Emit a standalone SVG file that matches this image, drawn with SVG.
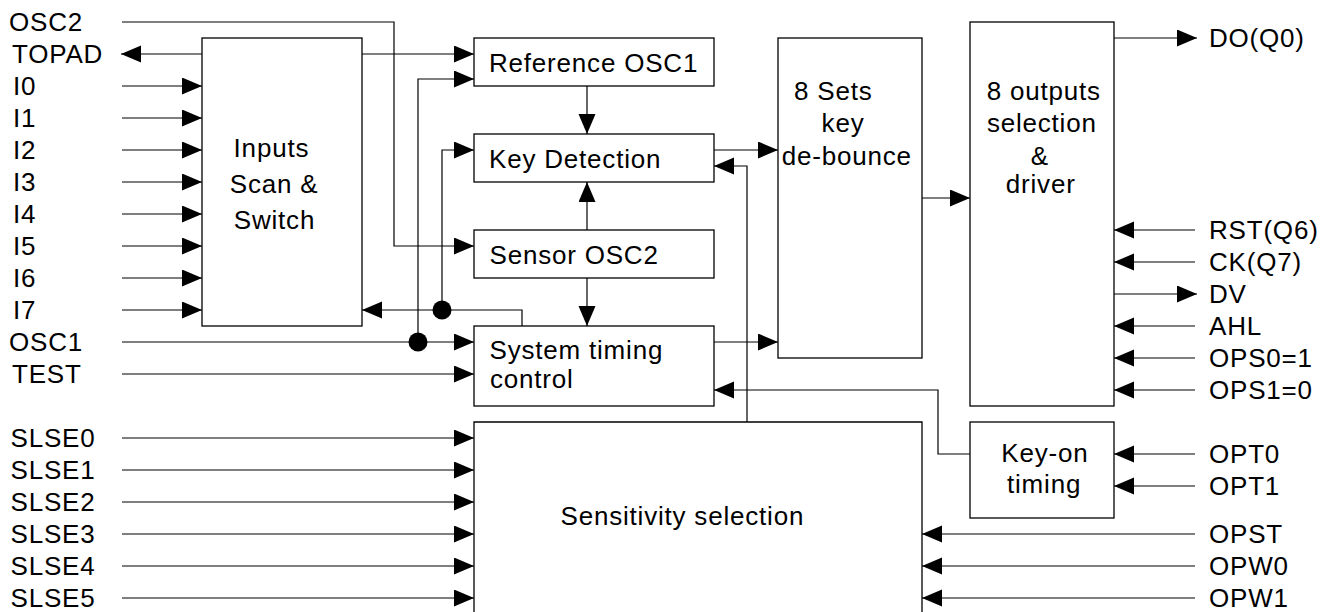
<svg xmlns="http://www.w3.org/2000/svg" width="1334" height="612" viewBox="0 0 1334 612">
<defs>
<marker id="arr" markerUnits="userSpaceOnUse" markerWidth="22" markerHeight="18" refX="20" refY="8.5" orient="auto">
<path d="M0,0 L20,8.5 L0,17 z" fill="#000"/>
</marker>
<style>
text{font-family:"Liberation Sans",Arial,sans-serif;font-size:26px;letter-spacing:0.8px;fill:#000}
.box{fill:none;stroke:#000;stroke-width:1.3}
.w{fill:none;stroke:#000;stroke-width:1.2}
.a{fill:none;stroke:#000;stroke-width:1.2;marker-end:url(#arr)}
.dot{fill:#000}
</style>
</defs>
<rect width="1334" height="612" fill="#fff"/>

<g id="inputs-scan">
<rect class="box" x="202" y="38" width="160" height="288"/>
<text x="233.6" y="157">Inputs</text>
<text x="229.8" y="193">Scan &amp;</text>
<text x="233.8" y="228.5">Switch</text>
</g>
<g id="reference-osc1">
<rect class="box" x="474" y="38" width="240" height="48"/>
<text x="489" y="72">Reference OSC1</text>
</g>
<g id="key-detection">
<rect class="box" x="474" y="134" width="240" height="48"/>
<text x="489" y="168">Key Detection</text>
</g>
<g id="sensor-osc2">
<rect class="box" x="474" y="230" width="240" height="48"/>
<text x="489.5" y="264">Sensor OSC2</text>
</g>
<g id="system-timing">
<rect class="box" x="474" y="326" width="240" height="80"/>
<text x="489.5" y="359">System timing</text>
<text x="490" y="388">control</text>
</g>
<g id="sensitivity-selection">
<path class="box" d="M474,620 V422 H922 V620"/>
<text x="560.5" y="525">Sensitivity selection</text>
</g>
<g id="debounce">
<rect class="box" x="778" y="38" width="144" height="320"/>
<text x="794" y="100">8 Sets</text>
<text x="821.6" y="132">key</text>
<text x="781.8" y="165">de-bounce</text>
</g>
<g id="outputs-driver">
<rect class="box" x="970" y="22" width="144" height="384"/>
<text x="986.7" y="100">8 outputs</text>
<text x="986.9" y="132">selection</text>
<text x="1030.7" y="165">&amp;</text>
<text x="1005.8" y="193">driver</text>
</g>
<g id="key-on-timing">
<rect class="box" x="970" y="422" width="144" height="96"/>
<text x="1001.3" y="462">Key-on</text>
<text x="1007" y="493">timing</text>
</g>

<g id="pin-labels">
<text x="9" y="31.3">OSC2</text>
<text x="12" y="63.3">TOPAD</text>
<text x="13" y="95.3">I0</text>
<text x="13" y="127.3">I1</text>
<text x="13" y="159.3">I2</text>
<text x="13" y="191.3">I3</text>
<text x="13" y="223.3">I4</text>
<text x="13" y="255.3">I5</text>
<text x="13" y="287.3">I6</text>
<text x="13" y="319.3">I7</text>
<text x="9" y="351.3">OSC1</text>
<text x="12" y="383.3">TEST</text>
<text x="10.5" y="447.3">SLSE0</text>
<text x="10.5" y="479.3">SLSE1</text>
<text x="10.5" y="511.3">SLSE2</text>
<text x="10.5" y="543.3">SLSE3</text>
<text x="10.5" y="575.3">SLSE4</text>
<text x="10.5" y="607.3">SLSE5</text>
<text x="1209" y="47.3">DO(Q0)</text>
<text x="1209" y="239.3">RST(Q6)</text>
<text x="1209" y="271.3">CK(Q7)</text>
<text x="1209" y="303.3">DV</text>
<text x="1209" y="335.3">AHL</text>
<text x="1209" y="367.3">OPS0=1</text>
<text x="1209" y="399.3">OPS1=0</text>
<text x="1209" y="463.3">OPT0</text>
<text x="1209" y="495.3">OPT1</text>
<text x="1209" y="543.3">OPST</text>
<text x="1209" y="575.3">OPW0</text>
<text x="1209" y="607.3">OPW1</text>
</g>

<g id="connectors">
<path class="a" d="M122,22 H394 V246 H474"/>
<path class="a" d="M202,54 H121"/>
<path class="a" d="M362,54 H474"/>
<path class="a" d="M122,86 H202"/>
<path class="a" d="M122,118 H202"/>
<path class="a" d="M122,150 H202"/>
<path class="a" d="M122,182 H202"/>
<path class="a" d="M122,214 H202"/>
<path class="a" d="M122,246 H202"/>
<path class="a" d="M122,278 H202"/>
<path class="a" d="M122,310 H202"/>
<path class="a" d="M122,342 H474"/>
<path class="a" d="M418,342 V79 H474"/>
<path class="a" d="M122,374 H474"/>
<path class="a" d="M522,326 V310 H362"/>
<path class="a" d="M442,310 V150 H474"/>
<path class="a" d="M587,86 V134"/>
<path class="a" d="M587,230 V182"/>
<path class="a" d="M587,278 V326"/>
<path class="a" d="M714,150 H778"/>
<path class="a" d="M747,422 V166 H714"/>
<path class="a" d="M714,342 H778"/>
<path class="a" d="M970,454 H938 V390 H714"/>
<path class="a" d="M922,198 H970"/>
<path class="a" d="M1114,38 H1197"/>
<path class="a" d="M1195,230 H1114"/>
<path class="a" d="M1195,262 H1114"/>
<path class="a" d="M1114,294 H1197"/>
<path class="a" d="M1195,326 H1114"/>
<path class="a" d="M1195,358 H1114"/>
<path class="a" d="M1195,390 H1114"/>
<path class="a" d="M1195,454 H1114"/>
<path class="a" d="M1195,486 H1114"/>
<path class="a" d="M1195,534 H922"/>
<path class="a" d="M1195,566 H922"/>
<path class="a" d="M1195,598 H922"/>
<path class="a" d="M122,438 H474"/>
<path class="a" d="M122,470 H474"/>
<path class="a" d="M122,502 H474"/>
<path class="a" d="M122,534 H474"/>
<path class="a" d="M122,566 H474"/>
<path class="a" d="M122,598 H474"/>
<circle class="dot" cx="418" cy="342" r="9.5"/>
<circle class="dot" cx="442" cy="310" r="9.5"/>
</g>
</svg>
